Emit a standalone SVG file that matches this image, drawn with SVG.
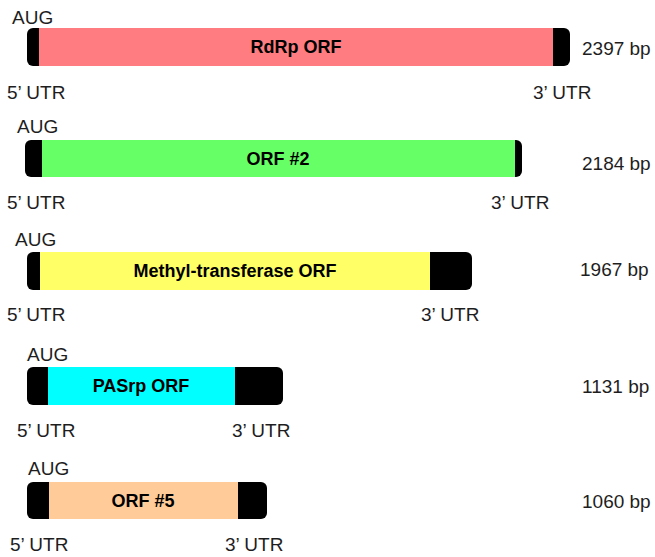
<svg xmlns="http://www.w3.org/2000/svg" width="655" height="557" viewBox="0 0 655 557">
<style>
text{font-family:"Liberation Sans",Arial,sans-serif;font-size:19px;fill:#1e1e1e}
.lbl{font-weight:bold;font-size:18px;fill:#000;text-anchor:middle}
.utr{fill:#000}
</style>
<rect width="655" height="557" fill="#fff"/>
<g id="rdrp">
<rect class="utr" x="27" y="28" width="543" height="38" rx="6"/>
<rect x="39" y="28" width="514" height="38" fill="#FF7C80"/>
<text class="lbl" x="296" y="53">RdRp ORF</text>
<text x="12" y="24">AUG</text>
<text x="7" y="99">5’ UTR</text>
<text x="533" y="99">3’ UTR</text>
<text x="582" y="55">2397 bp</text>
</g>
<g id="orf2">
<rect class="utr" x="25" y="140" width="497" height="37" rx="6"/>
<rect x="42" y="140" width="473" height="37" fill="#66FF66"/>
<text class="lbl" x="278" y="165">ORF #2</text>
<text x="17" y="133">AUG</text>
<text x="7" y="209">5’ UTR</text>
<text x="491" y="209">3’ UTR</text>
<text x="582" y="170">2184 bp</text>
</g>
<g id="mtase">
<rect class="utr" x="27" y="252" width="445" height="38" rx="6"/>
<rect x="40" y="252" width="390" height="38" fill="#FFFF66"/>
<text class="lbl" x="235" y="277">Methyl-transferase ORF</text>
<text x="15" y="246">AUG</text>
<text x="7" y="321">5’ UTR</text>
<text x="421" y="321">3’ UTR</text>
<text x="580" y="276">1967 bp</text>
</g>
<g id="pasrp">
<rect class="utr" x="27" y="367" width="256" height="38" rx="6"/>
<rect x="48" y="367" width="187" height="38" fill="#00FFFF"/>
<text class="lbl" x="141" y="392">PASrp ORF</text>
<text x="27" y="361">AUG</text>
<text x="17" y="437">5’ UTR</text>
<text x="232" y="437">3’ UTR</text>
<text x="582" y="393">1131 bp</text>
</g>
<g id="orf5">
<rect class="utr" x="27" y="482" width="240" height="37" rx="6"/>
<rect x="49" y="482" width="189" height="37" fill="#FFCC99"/>
<text class="lbl" x="143" y="507">ORF #5</text>
<text x="28" y="475">AUG</text>
<text x="10" y="551">5’ UTR</text>
<text x="225" y="551">3’ UTR</text>
<text x="582" y="508">1060 bp</text>
</g>
<g id="connectors"></g>
</svg>
